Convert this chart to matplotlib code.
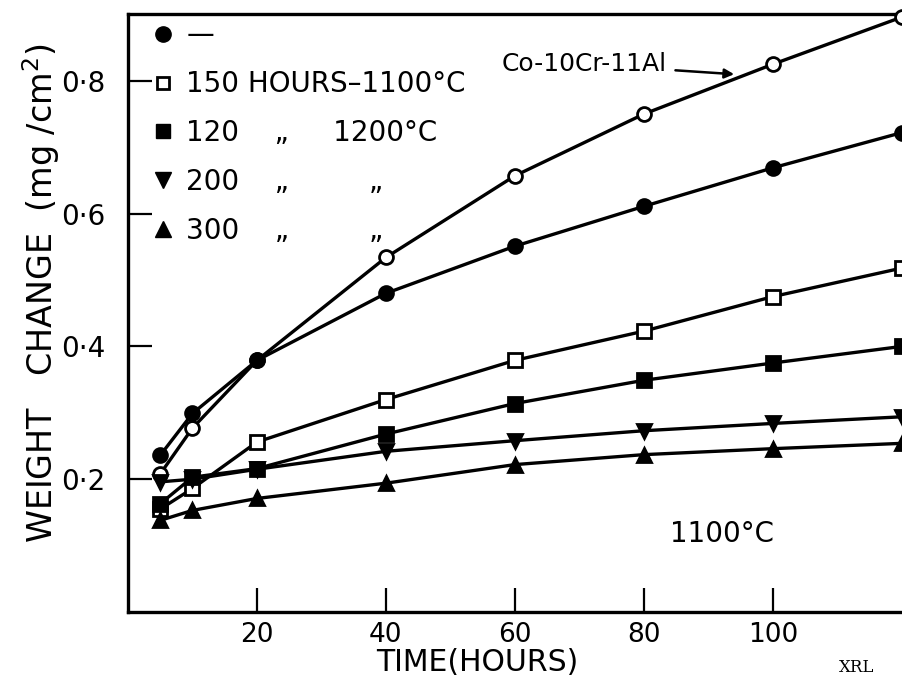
import matplotlib
matplotlib.use("Agg")
import matplotlib.pyplot as plt
from matplotlib.lines import Line2D

plt.rcParams['font.family'] = ['DejaVu Sans']

# ---- data ----
hours = [5, 10, 20, 40, 60, 80, 100, 120]
co10cr11al = [0.208, 0.277, 0.379, 0.534, 0.657, 0.750, 0.825, 0.896]
as_received = [0.236, 0.299, 0.379, 0.480, 0.551, 0.611, 0.669, 0.722]
h150_1100 = [0.155, 0.186, 0.256, 0.320, 0.379, 0.423, 0.475, 0.518]
h120_1200 = [0.163, 0.203, 0.216, 0.268, 0.314, 0.349, 0.375, 0.400]
h200_1200 = [0.196, 0.200, 0.215, 0.242, 0.258, 0.273, 0.284, 0.294]
h300_1200 = [0.138, 0.153, 0.171, 0.194, 0.222, 0.237, 0.246, 0.254]

xticks = [20, 40, 60, 80, 100]
yticks = [0.2, 0.4, 0.6, 0.8]
ytick_labels = ["0·2", "0·4", "0·6", "0·8"]

legend_labels = ["—", "150 HOURS–1100°C", "120    „     1200°C",
                 "200    „         „", "300    „         „"]

fig = plt.figure(figsize=(9.02, 6.79), dpi=100)
ax = fig.add_axes([0.1419, 0.0987, 0.8936, 0.880])

lw = 2.4
ms = 10
mew = 2.0
series = [
    (co10cr11al, dict(marker='o', mfc='white')),
    (as_received, dict(marker='o', mfc='black')),
    (h150_1100, dict(marker='s', mfc='white')),
    (h120_1200, dict(marker='s', mfc='black')),
    (h200_1200, dict(marker='v', mfc='black')),
    (h300_1200, dict(marker='^', mfc='black')),
]
for ys, st in series:
    ax.plot(hours, ys, color='black', lw=lw, ms=ms, mec='black', mew=mew,
            clip_on=False, zorder=3, **st)

ax.set_xlim(0, 125)
ax.set_ylim(0, 0.9)

for s in ax.spines.values():
    s.set_linewidth(2.4)

ax.set_xticks(xticks)
ax.set_yticks(yticks)
ax.set_yticklabels(ytick_labels)
ax.tick_params(axis='both', direction='in', length=17, width=1.6,
               labelsize=20, colors='black')
ax.tick_params(axis='y', pad=16)
ax.tick_params(axis='x', pad=7, labelsize=19)

ax.set_xlabel("TIME(HOURS)", fontsize=21.5)
ax.xaxis.set_label_coords(0.433, -0.06)
ax.xaxis.label.set_va('top')
ax.set_ylabel("WEIGHT   CHANGE  (mg /cm$^{2}$)", fontsize=24)
ax.yaxis.set_label_coords(-0.082, 0.533)

# legend (text-style key as in the original)
handles = [
    Line2D([], [], ls='none', marker='o', mfc='black', mec='black', ms=11),
    Line2D([], [], ls='none', marker='s', mfc='white', mec='black', ms=8, mew=mew),
    Line2D([], [], ls='none', marker='s', mfc='black', mec='black', ms=10),
    Line2D([], [], ls='none', marker='v', mfc='black', mec='black', ms=11),
    Line2D([], [], ls='none', marker='^', mfc='black', mec='black', ms=11),
]
leg = ax.legend(handles, legend_labels, loc='upper left', frameon=False,
                fontsize=20, handlelength=0.6, handletextpad=0.55,
                labelspacing=0.75, borderaxespad=0.0,
                bbox_to_anchor=(0.019, 1.007))

ax.annotate("Co-10Cr-11Al", xy=(94, 0.81), xytext=(58, 0.825),
            fontsize=18, va='center', ha='left',
            arrowprops=dict(arrowstyle='-|>', color='black', lw=1.8,
                            shrinkA=4, shrinkB=0, mutation_scale=14))

ax.text(84, 0.118, "1100°C", fontsize=20, va='center', ha='left')

fig.text(0.93, 0.004, "XRL", fontsize=12, family='DejaVu Serif',
         ha='left', va='bottom')

fig.savefig("out.png", dpi=100)
